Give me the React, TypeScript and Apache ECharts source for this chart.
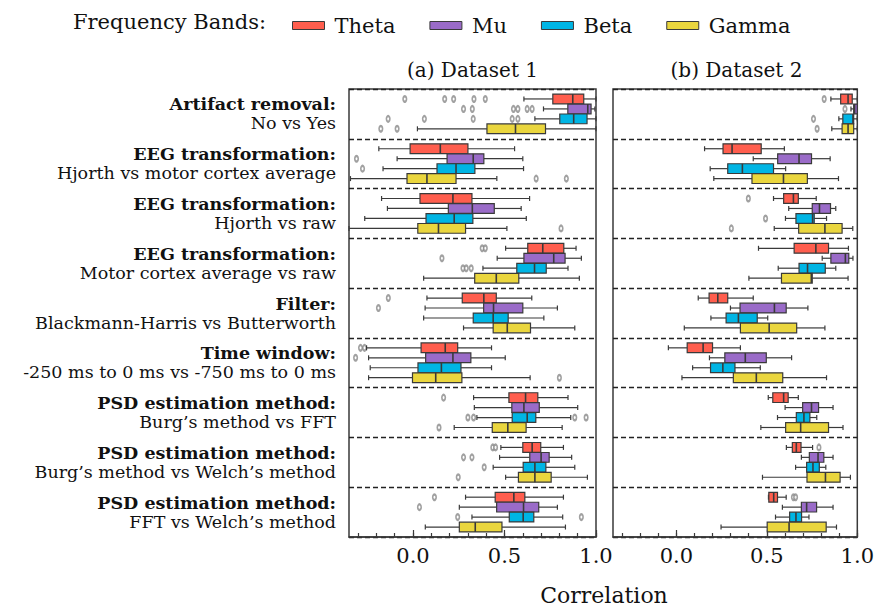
import React, { useEffect, useRef } from 'react';
import * as echarts from 'echarts';

const FONT = '"DejaVu Serif", "Liberation Serif", serif';

const bandNames = ['Theta', 'Mu', 'Beta', 'Gamma'];
const bandColors = ['#FF5E4E', '#9A6BC8', '#00B5E4', '#EAD63E'];

const groupTitles = [
  'Artifact removal:',
  'EEG transformation:',
  'EEG transformation:',
  'EEG transformation:',
  'Filter:',
  'Time window:',
  'PSD estimation method:',
  'PSD estimation method:',
  'PSD estimation method:',
];
const groupSubtitles = [
  'No vs Yes',
  'Hjorth vs motor cortex average',
  'Hjorth vs raw',
  'Motor cortex average vs raw',
  'Blackmann-Harris vs Butterworth',
  '-250 ms to 0 ms vs -750 ms to 0 ms',
  'Burg\u2019s method vs FFT',
  'Burg\u2019s method vs Welch\u2019s method',
  'FFT vs Welch\u2019s method',
];

const panelTitles = ['(a) Dataset 1', '(b) Dataset 2'];
const xTickValues = [-0.3, -0.2, -0.1, 0, 0.1, 0.2, 0.3, 0.4, 0.5, 0.6, 0.7, 0.8, 0.9, 1.0];
const xMajorValues = [0, 0.5, 1.0];
const xLabelValues = [0, 0.5, 1.0];

// [min, q1, median, q3, max] per comparison group
const d1Theta = [
  [0.606, 0.764, 0.873, 0.933, 1.0],
  [-0.187, -0.016, 0.149, 0.3, 0.555],
  [-0.172, 0.038, 0.218, 0.322, 0.637],
  [0.506, 0.627, 0.709, 0.824, 0.891],
  [0.076, 0.269, 0.387, 0.455, 0.649],
  [-0.254, 0.044, 0.176, 0.244, 0.429],
  [0.331, 0.524, 0.615, 0.682, 0.847],
  [0.48, 0.6, 0.651, 0.698, 0.822],
  [0.287, 0.449, 0.551, 0.611, 0.822],
];
const d1Mu = [
  [0.713, 0.846, 0.955, 0.973, 0.994],
  [-0.087, 0.186, 0.329, 0.387, 0.6],
  [-0.14, 0.193, 0.324, 0.444, 0.591],
  [0.46, 0.606, 0.769, 0.831, 0.92],
  [0.066, 0.386, 0.44, 0.6, 0.789],
  [-0.243, 0.069, 0.218, 0.316, 0.504],
  [0.335, 0.54, 0.606, 0.69, 0.9],
  [0.473, 0.638, 0.7, 0.744, 0.867],
  [0.253, 0.457, 0.604, 0.687, 0.789],
];
const d1Beta = [
  [0.666, 0.802, 0.878, 0.951, 1.0],
  [-0.164, 0.131, 0.235, 0.338, 0.604],
  [-0.264, 0.071, 0.225, 0.327, 0.619],
  [0.382, 0.567, 0.664, 0.728, 0.847],
  [0.058, 0.329, 0.438, 0.52, 0.715],
  [-0.234, 0.027, 0.155, 0.262, 0.429],
  [0.349, 0.542, 0.624, 0.671, 0.862],
  [0.438, 0.602, 0.666, 0.726, 0.884],
  [0.322, 0.526, 0.602, 0.66, 0.818],
];
const d1Gamma = [
  [0.024, 0.404, 0.56, 0.724, 1.0],
  [-0.342, -0.033, 0.076, 0.235, 0.458],
  [-0.35, 0.026, 0.139, 0.287, 0.513],
  [0.058, 0.337, 0.455, 0.578, 0.909],
  [0.276, 0.438, 0.515, 0.642, 0.884],
  [-0.243, -0.003, 0.124, 0.267, 0.64],
  [0.225, 0.433, 0.518, 0.618, 0.815],
  [0.506, 0.576, 0.666, 0.755, 0.953],
  [0.067, 0.253, 0.34, 0.486, 0.833],
];

const d2Theta = [
  [0.854, 0.908, 0.949, 0.972, 1.0],
  [0.156, 0.258, 0.308, 0.469, 0.597],
  [0.537, 0.593, 0.647, 0.674, 0.773],
  [0.454, 0.651, 0.771, 0.841, 0.951],
  [0.121, 0.181, 0.229, 0.284, 0.425],
  [-0.044, 0.06, 0.148, 0.2, 0.354],
  [0.508, 0.533, 0.593, 0.618, 0.674],
  [0.608, 0.641, 0.663, 0.689, 0.753],
  [0.509, 0.511, 0.538, 0.559, 0.607],
];
const d2Mu = [
  [0.965, 0.98, 0.985, 1.0, 1.0],
  [0.425, 0.56, 0.678, 0.747, 0.85],
  [0.621, 0.751, 0.791, 0.852, 0.881],
  [0.806, 0.854, 0.934, 0.953, 0.976],
  [0.299, 0.352, 0.542, 0.607, 0.727],
  [0.183, 0.268, 0.381, 0.497, 0.637],
  [0.601, 0.698, 0.747, 0.786, 0.866],
  [0.691, 0.735, 0.783, 0.815, 0.866],
  [0.586, 0.691, 0.72, 0.775, 0.866],
];
const d2Beta = [
  [0.898, 0.92, 0.976, 0.98, 1.0],
  [0.187, 0.284, 0.365, 0.537, 0.604],
  [0.603, 0.661, 0.753, 0.762, 0.83],
  [0.563, 0.678, 0.725, 0.823, 0.881],
  [0.191, 0.275, 0.343, 0.447, 0.505],
  [0.09, 0.189, 0.257, 0.324, 0.464],
  [0.559, 0.663, 0.705, 0.738, 0.776],
  [0.659, 0.72, 0.755, 0.79, 0.826],
  [0.548, 0.626, 0.661, 0.692, 0.733],
];
const d2Gamma = [
  [0.859, 0.916, 0.949, 0.98, 1.0],
  [0.207, 0.418, 0.592, 0.724, 0.896],
  [0.541, 0.676, 0.821, 0.916, 0.975],
  [0.401, 0.581, 0.746, 0.751, 0.949],
  [0.044, 0.354, 0.513, 0.665, 0.821],
  [0.031, 0.315, 0.442, 0.588, 0.83],
  [0.467, 0.604, 0.687, 0.841, 0.921],
  [0.476, 0.722, 0.824, 0.905, 0.962],
  [0.247, 0.502, 0.623, 0.828, 0.885],
];

// outliers: [group index, correlation]
const d1ThetaOut = [[0, -0.045], [0, 0.173], [0, 0.222], [0, 0.333], [0, 0.395], [3, 0.378], [3, 0.395], [4, -0.135], [5, -0.287], [5, -0.265], [6, 0.167], [7, 0.436], [7, 0.451], [8, 0.117]];
const d1MuOut = [[0, 0.276], [0, 0.324], [0, 0.549], [0, 0.573], [0, 0.624], [0, 0.651], [1, -0.309], [3, 0.158], [4, -0.189], [5, -0.314], [7, 0.276], [7, 0.322], [8, 0.035]];
const d1BetaOut = [[0, -0.136], [0, 0.062], [0, 0.329], [0, 0.542], [0, 0.573], [1, -0.276], [3, 0.273], [3, 0.291], [3, 0.318], [6, 0.3], [6, 0.331], [6, 0.884], [6, 0.946], [7, 0.389], [8, 0.244], [8, 0.92]];
const d1GammaOut = [[0, -0.176], [0, -0.087], [1, 0.673], [1, 0.838], [2, 0.809], [5, 0.8], [6, 0.142], [7, 0.247]];
const d2ThetaOut = [[0, 0.817], [2, 0.398], [7, 0.788], [8, 0.647], [8, 0.659]];
const d2MuOut = [[0, 0.932]];
const d2BetaOut = [[0, 0.758], [2, 0.493]];
const d2GammaOut = [[0, 0.778], [2, 0.304]];

const datasets = [
  { boxes: [d1Theta, d1Mu, d1Beta, d1Gamma], outs: [d1ThetaOut, d1MuOut, d1BetaOut, d1GammaOut] },
  { boxes: [d2Theta, d2Mu, d2Beta, d2Gamma], outs: [d2ThetaOut, d2MuOut, d2BetaOut, d2GammaOut] },
];

const GRID_TOP = 89;
const GRID_H = 448;
const GRID_W = 247;
const GRID_LEFTS = [349, 613];
const SLOTS = 5;

function makeRender(color: string) {
  return (params: any, api: any) => {
    const y = api.value(0);
    const pts = [1, 2, 3, 4, 5].map((i) => api.coord([api.value(i), y]));
    const cy = pts[0][1];
    const h = api.size([0, 1])[1] * 0.98;
    const cap = 2.5;
    const ln = (x1: number, y1: number, x2: number, y2: number, w: number) => ({
      type: 'line',
      shape: { x1, y1, x2, y2 },
      style: { stroke: '#3a3a3a', lineWidth: w },
    });
    return {
      type: 'group',
      children: [
        ln(pts[0][0], cy, pts[1][0], cy, 1.2),
        ln(pts[3][0], cy, pts[4][0], cy, 1.2),
        ln(pts[0][0], cy - cap, pts[0][0], cy + cap, 1.2),
        ln(pts[4][0], cy - cap, pts[4][0], cy + cap, 1.2),
        {
          type: 'rect',
          shape: { x: pts[1][0], y: cy - h / 2, width: pts[3][0] - pts[1][0], height: h },
          style: { fill: color, stroke: '#3a3a3a', lineWidth: 1.2 },
        },
        ln(pts[2][0], cy - h / 2, pts[2][0], cy + h / 2, 1.6),
      ],
    };
  };
}

export default function App() {
  const ref = useRef<HTMLDivElement>(null);
  useEffect(() => {
    if (!ref.current) return;
    const chart = echarts.init(ref.current, undefined, { renderer: 'svg' });

    const grids = GRID_LEFTS.map((left) => ({
      left,
      top: GRID_TOP,
      width: GRID_W,
      height: GRID_H,
      show: true,
      borderColor: '#3a3a3a',
      borderWidth: 1.5,
      backgroundColor: 'transparent',
    }));

    const xAxes: any[] = [];
    const yAxes: any[] = [];
    GRID_LEFTS.forEach((_, gi) => {
      xAxes.push({
        gridIndex: gi,
        type: 'value',
        position: 'bottom',
        min: -0.35,
        max: 1.0,
        axisLine: { show: true, onZero: false, lineStyle: { color: '#3a3a3a', width: 1.5 } },
        axisTick: { show: true, inside: true, length: 4, customValues: xTickValues, lineStyle: { color: '#3a3a3a', width: 1.2 } },
        axisLabel: {
          show: true,
          customValues: xLabelValues,
          formatter: (v: number) => v.toFixed(1),
          fontSize: 21,
          fontFamily: FONT,
          color: '#111',
          margin: 8,
        },
        splitLine: { show: false },
      });
      xAxes.push({
        gridIndex: gi,
        type: 'value',
        position: 'bottom',
        min: -0.35,
        max: 1.0,
        axisLine: { show: false, onZero: false },
        axisTick: { show: true, inside: true, length: 7, customValues: xMajorValues, lineStyle: { color: '#3a3a3a', width: 1.2 } },
        axisLabel: { show: false },
        splitLine: { show: false },
      });
      yAxes.push({
        gridIndex: gi,
        type: 'value',
        position: 'left',
        min: 0,
        max: groupTitles.length * SLOTS,
        interval: SLOTS,
        inverse: true,
        axisLine: { show: false },
        axisTick: { show: false },
        axisLabel: { show: false },
        splitLine: { show: true, lineStyle: { color: '#222', width: 1.4, type: [5, 3] } },
      });
    });
    yAxes.push({
      gridIndex: 0,
      type: 'category',
      position: 'left',
      data: groupTitles.map((t, i) => ({ value: `${t}|${groupSubtitles[i]}` })),
      inverse: true,
      axisLine: { show: false, onZero: false },
      axisTick: { show: false },
      splitLine: { show: false },
      axisLabel: {
        margin: 13,
        align: 'right',
        formatter: (v: string) => {
          const [a, b] = v.split('|');
          return `{b|${a}}\n{n|${b}}`;
        },
        rich: {
          b: { fontFamily: FONT, fontWeight: 'bold', fontSize: 17.5, lineHeight: 19, color: '#111' },
          n: { fontFamily: FONT, fontSize: 17.5, lineHeight: 19, color: '#111' },
        },
      },
    });

    const series: any[] = [];
    datasets.forEach((ds, di) => {
      ds.boxes.forEach((rows, bi) => {
        series.push({
          type: 'custom',
          name: bandNames[bi],
          xAxisIndex: di * 2,
          yAxisIndex: di,
          itemStyle: { color: bandColors[bi], borderColor: '#3a3a3a', borderWidth: 1 },
          renderItem: makeRender(bandColors[bi]),
          encode: { x: [1, 2, 3, 4, 5], y: 0 },
          data: rows.map((r, gi) => [gi * SLOTS + bi + 1, ...r]),
          z: 3,
        });
      });
      ds.outs.forEach((pts, bi) => {
        series.push({
          type: 'scatter',
          name: 'outlier',
          xAxisIndex: di * 2,
          yAxisIndex: di,
          symbol: 'emptyCircle',
          symbolSize: [3.5, 5.5],
          itemStyle: { color: '#8a8a8a', borderWidth: 1 },
          data: pts.map(([g, v]) => [v, g * SLOTS + bi + 1]),
          z: 2,
        });
      });
    });

    const option: any = {
      animation: false,
      color: bandColors,
      textStyle: { fontFamily: FONT },
      grid: grids,
      xAxis: xAxes,
      yAxis: yAxes,
      legend: {
        data: bandNames.map((name) => ({ name, icon: 'rect' })),
        left: 287,
        top: 10,
        itemWidth: 32,
        itemHeight: 8,
        itemGap: 34,
        itemStyle: { borderColor: '#3a3a3a', borderWidth: 1 },
        textStyle: { fontSize: 21, fontFamily: FONT, color: '#111', padding: [0, 0, 0, 5] },
        selectedMode: false,
      },
      graphic: [
        {
          type: 'text',
          x: 73,
          y: 22,
          style: { text: 'Frequency Bands:', fill: '#111', font: `21px ${FONT}`, textAlign: 'left', textVerticalAlign: 'middle' },
        },
        ...panelTitles.map((t, i) => ({
          type: 'text',
          x: GRID_LEFTS[i] + GRID_W / 2,
          y: 70,
          style: { text: t, fill: '#111', font: `20px ${FONT}`, textAlign: 'center', textVerticalAlign: 'middle' },
        })),
        {
          type: 'text',
          x: 604,
          y: 595,
          style: { text: 'Correlation', fill: '#111', font: `22px ${FONT}`, textAlign: 'center', textVerticalAlign: 'middle' },
        },
      ],
      series,
    };
    chart.setOption(option);
    return () => chart.dispose();
  }, []);

  return (
    <div
      ref={ref}
      style={{ position: 'absolute', left: 0, top: 0, width: 877, height: 608, background: '#fff' }}
    />
  );
}
